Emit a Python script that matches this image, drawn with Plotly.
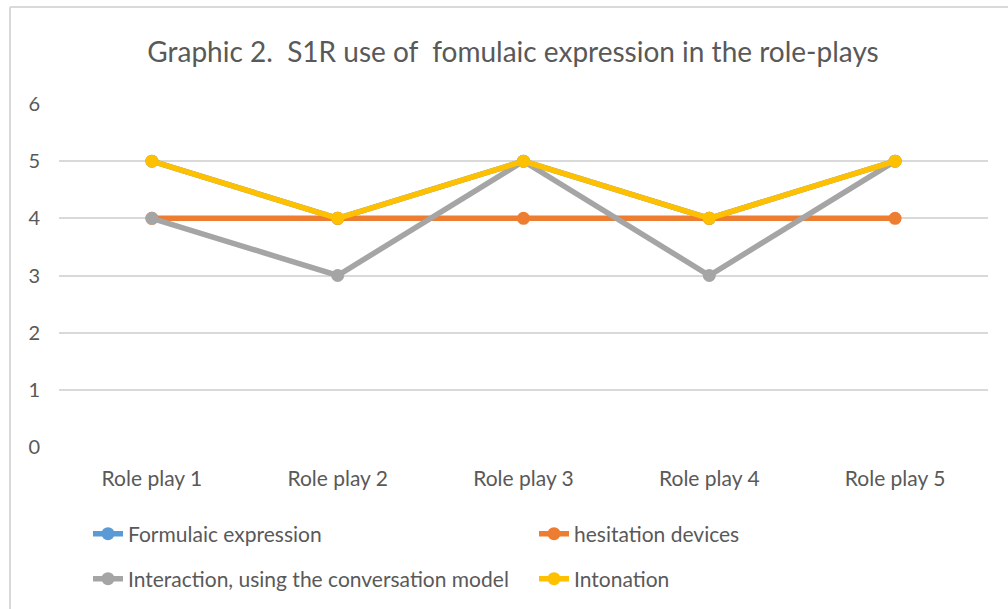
import plotly.graph_objects as go

categories = ["Role play 1", "Role play 2", "Role play 3", "Role play 4", "Role play 5"]
formulaic = [5, 4, 5, 4, 5]
hesitation = [4, 4, 4, 4, 4]
interaction = [4, 3, 5, 3, 5]
intonation = [5, 4, 5, 4, 5]

names = ["Formulaic expression", "hesitation devices",
         "Interaction, using the conversation model", "Intonation"]
colors = ["#5B9BD5", "#ED7D31", "#A5A5A5", "#FFC000"]
series = [formulaic, hesitation, interaction, intonation]
legend_ids = ["legend", "legend", "legend2", "legend2"]

FONT = "Lato"
TXT = "#595959"

fig = go.Figure()
for name, col, vals, lg in zip(names, colors, series, legend_ids):
    fig.add_trace(go.Scatter(
        x=categories, y=vals, name=name, mode="lines+markers",
        line=dict(color=col, width=5.5),
        marker=dict(color=col, size=13),
        legend=lg,
    ))

# figure slightly taller than the window so the bottom legend never pushes the margins
W, H = 1008, 640
L, R, T = 59, 20, 104
B = H - 447
pw, ph = W - L - R, H - T - B

def px_x(x):
    return (x - L) / pw

def px_y(y):
    return (H - B - y) / ph

leg_common = dict(orientation="h", x=px_x(88), xanchor="left",
                  yanchor="middle", entrywidth=401, entrywidthmode="pixels",
                  font=dict(size=21, color=TXT), bgcolor="rgba(0,0,0,0)")

fig.update_layout(
    width=W, height=H,
    margin=dict(l=L, r=R, t=T, b=B),
    paper_bgcolor="white", plot_bgcolor="white",
    font=dict(family=FONT, color=TXT, size=21),
    title=dict(text="Graphic 2.  S1R use of  fomulaic expression in the role-plays",
               x=513 / W, xref="container", xanchor="center",
               y=1 - 52 / H, yref="container", yanchor="middle",
               font=dict(family=FONT, size=28, color=TXT)),
    xaxis=dict(type="category", range=[-0.5, 4.5], showgrid=False,
               showline=False, zeroline=False, ticks="",
               ticklabelstandoff=17, tickfont=dict(size=21, color=TXT)),
    yaxis=dict(range=[0, 6], dtick=1, tick0=0, showgrid=True,
               gridcolor="#D9D9D9", gridwidth=2, zeroline=False,
               showline=False, ticks="", ticklabelstandoff=18,
               tickfont=dict(size=20, color=TXT)),
    legend=dict(y=px_y(534), **leg_common),
    legend2=dict(y=px_y(579), **leg_common),
    showlegend=True,
    shapes=[
        dict(type="line", xref="paper", yref="paper",
             x0=px_x(10), x1=px_x(1010), y0=px_y(7), y1=px_y(7),
             line=dict(color="#D9D9D9", width=2)),
        dict(type="line", xref="paper", yref="paper",
             x0=px_x(10), x1=px_x(10), y0=px_y(7), y1=px_y(H + 5),
             line=dict(color="#D9D9D9", width=2)),
    ],
)

fig.write_html("out.html", config={"displayModeBar": False},
               post_script="document.body.style.margin='0px';")
